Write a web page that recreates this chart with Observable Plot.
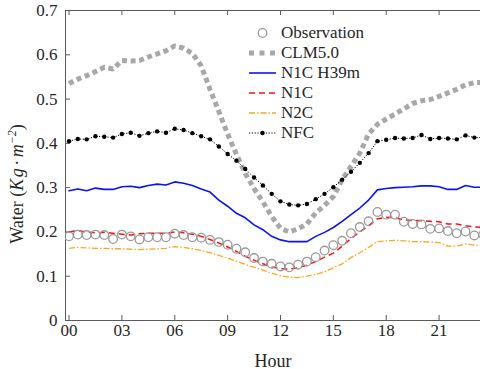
<!DOCTYPE html>
<html>
<head>
<meta charset="utf-8">
<script src="https://cdn.jsdelivr.net/npm/d3@7"></script>
<script src="https://cdn.jsdelivr.net/npm/@observablehq/plot@0.6"></script>
<style>
  html, body { margin: 0; padding: 0; background: #fff; }
  #wrap { position: relative; width: 480px; height: 369px; font-family: "Liberation Serif", serif; color: #262626; }
  #legend { position: absolute; left: 249px; top: 23px; font-family: "Liberation Serif", serif; font-size: 17px; line-height: 20px; }
  #legend .row { display: flex; align-items: center; height: 20px; }
  #legend svg { width: 27px; height: 20px; margin-right: 5px; flex: none; }
</style>
</head>
<body>
<div id="wrap"></div>
<script>
const hours = [0,0.5,1,1.5,2,2.5,3,3.5,4,4.5,5,5.5,6,6.5,7,7.5,8,8.5,9,9.5,10,10.5,11,11.5,
               12,12.5,13,13.5,14,14.5,15,15.5,16,16.5,17,17.5,18,18.5,19,19.5,20,20.5,21,21.5,22,22.5,23,23.5];
const observation = [0.190,0.194,0.193,0.194,0.193,0.184,0.194,0.190,0.183,0.188,0.188,0.188,0.196,0.193,0.188,0.187,
                     0.182,0.177,0.171,0.162,0.154,0.141,0.133,0.128,0.122,0.120,0.126,0.133,0.143,0.158,0.170,0.180,
                     0.197,0.211,0.224,0.245,0.239,0.239,0.223,0.218,0.217,0.207,0.208,0.202,0.197,0.201,0.192,0.194];
const clm50 = [0.535,0.545,0.553,0.562,0.572,0.568,0.587,0.586,0.587,0.595,0.602,0.609,0.620,0.615,0.603,0.575,
               0.522,0.472,0.421,0.375,0.332,0.298,0.268,0.235,0.208,0.200,0.207,0.218,0.243,0.260,0.280,0.318,
               0.348,0.378,0.421,0.443,0.455,0.466,0.478,0.490,0.496,0.499,0.506,0.514,0.522,0.532,0.537,0.538];
const n1cH39m = [0.293,0.297,0.293,0.299,0.296,0.296,0.302,0.303,0.300,0.305,0.308,0.306,0.313,0.310,0.305,0.297,
                 0.290,0.272,0.258,0.242,0.232,0.216,0.205,0.190,0.182,0.178,0.178,0.178,0.190,0.199,0.210,0.224,
                 0.239,0.254,0.272,0.295,0.298,0.300,0.301,0.302,0.304,0.304,0.302,0.296,0.296,0.305,0.301,0.301];
const n1c = [0.200,0.203,0.200,0.198,0.199,0.197,0.195,0.193,0.196,0.197,0.197,0.197,0.200,0.198,0.195,0.190,
             0.183,0.175,0.166,0.156,0.145,0.136,0.128,0.121,0.117,0.116,0.119,0.125,0.133,0.143,0.152,0.168,
             0.185,0.200,0.214,0.230,0.233,0.232,0.227,0.226,0.225,0.224,0.223,0.218,0.218,0.214,0.211,0.210];
const n2c = [0.163,0.165,0.164,0.163,0.163,0.162,0.162,0.161,0.160,0.161,0.162,0.163,0.167,0.165,0.162,0.158,
             0.153,0.147,0.141,0.134,0.127,0.120,0.114,0.107,0.101,0.098,0.097,0.100,0.104,0.110,0.119,0.128,
             0.142,0.153,0.165,0.178,0.180,0.181,0.180,0.178,0.178,0.177,0.176,0.168,0.168,0.173,0.170,0.169];
const nfc = [0.405,0.410,0.409,0.416,0.415,0.413,0.421,0.424,0.417,0.423,0.427,0.424,0.433,0.430,0.423,0.416,
             0.409,0.393,0.376,0.361,0.342,0.323,0.305,0.286,0.269,0.262,0.260,0.263,0.274,0.286,0.301,0.318,
             0.336,0.356,0.378,0.405,0.408,0.412,0.411,0.412,0.419,0.410,0.412,0.411,0.409,0.418,0.413,0.413];

const xTicks = [0,3,6,9,12,15,18,21];
const xTickLabels = ["00","03","06","09","12","15","18","21"];
const yTicks = [0,0.1,0.2,0.3,0.4,0.5,0.6,0.7];
const yTickLabels = ["0","0.1","0.2","0.3","0.4","0.5","0.6","0.7"];
const xDomain = [-0.2, 23.35];
const yDomain = [0, 0.7];

const seriesNames = ["Observation","CLM5.0","N1C H39m","N1C","N2C","NFC"];

const rows = hours.map((h, i) => ({h, obs: observation[i], clm: clm50[i], n1h: n1cH39m[i], n1: n1c[i], n2: n2c[i], nfc: nfc[i]}));

const axisColor = "#5a5a5a";
const FONT = "'Liberation Serif', serif";
const chart = Plot.plot({
  width: 480,
  height: 369,
  marginLeft: 65,
  marginRight: 0,
  marginTop: 10,
  marginBottom: 49,
  style: {fontFamily: FONT, fontSize: "17px", color: "#262626", background: "#fff"},
  x: {domain: xDomain, axis: null},
  y: {domain: yDomain, axis: null},
  marks: [
    Plot.ruleY([yDomain[0]], {stroke: axisColor, strokeWidth: 1}),
    Plot.ruleY([yDomain[1]], {stroke: axisColor, strokeWidth: 1}),
    Plot.ruleX([xDomain[0]], {stroke: axisColor, strokeWidth: 1}),
    Plot.tickX(xTicks, {x: d => d, insetTop: 305, stroke: axisColor}),
    Plot.tickX(xTicks, {x: d => d, insetBottom: 305, stroke: axisColor}),
    Plot.tickY(yTicks, {y: d => d, insetRight: 410, stroke: axisColor}),
    Plot.axisX(xTicks, {tickSize: 0, tickPadding: 3, tickFormat: d => xTickLabels[xTicks.indexOf(d)], label: null, fontSize: 17, fontFamily: FONT}),
    Plot.axisY(yTicks, {tickSize: 0, tickPadding: 8, tickFormat: d => yTickLabels[yTicks.indexOf(d)], label: null, fontSize: 17, fontFamily: FONT}),
    Plot.text(["Hour"], {frameAnchor: "bottom", dy: 46, lineAnchor: "bottom", fontSize: 18, fontFamily: FONT}),
    Plot.line(rows, {x: "h", y: "clm", stroke: "#a8a8a8", strokeWidth: 5, strokeDasharray: "5,3.6", strokeLinecap: "butt", strokeLinejoin: "miter", clip: true}),
    Plot.line(rows, {x: "h", y: "n1h", stroke: "#0a14f0", strokeWidth: 1.6, clip: true}),
    Plot.line(rows, {x: "h", y: "n1", stroke: "#ff1010", strokeWidth: 1.5, strokeDasharray: "6,4", strokeLinecap: "butt", clip: true}),
    Plot.line(rows, {x: "h", y: "n2", stroke: "#ffa51a", strokeWidth: 1.3, strokeDasharray: "6,2,1.5,2", strokeLinecap: "butt", clip: true}),
    Plot.line(rows, {x: "h", y: "nfc", stroke: "#000", strokeWidth: 1, strokeDasharray: "1.2,1.6", strokeLinecap: "butt", clip: true}),
    Plot.dot(rows, {x: "h", y: "nfc", r: 2.2, fill: "#000", stroke: "none", clip: true}),
    Plot.dot(rows, {x: "h", y: "obs", r: 4.3, fill: "none", stroke: "#9a9a9a", strokeWidth: 1.3, clip: true})
  ]
});

const wrap = document.getElementById("wrap");
wrap.appendChild(chart);

// y axis title with math-style italics
const svg = d3.select(chart);
const yt = svg.append("text")
  .attr("transform", "translate(23,184) rotate(-90)")
  .attr("text-anchor", "middle")
  .attr("font-size", 18)
  .attr("fill", "#262626")
  .attr("font-family", FONT);
yt.append("tspan").text("Water (");
yt.append("tspan").attr("font-style", "italic").text("K");
yt.append("tspan").attr("font-style", "italic").attr("dx", 1.5).text("g");
yt.append("tspan").attr("dx", 2.5).text("·");
yt.append("tspan").attr("font-style", "italic").attr("dx", 2.5).text("m");
yt.append("tspan").attr("font-style", "italic").attr("font-size", 12).attr("dy", -7).text("−2");
yt.append("tspan").attr("dy", 7).text(")");

// legend
const legend = document.createElement("div");
legend.id = "legend";
const swatches = [
  `<circle cx="13.5" cy="10" r="4.3" fill="none" stroke="#9a9a9a" stroke-width="1.3"/>`,
  `<line x1="0" x2="27" y1="10" y2="10" stroke="#a8a8a8" stroke-width="5" stroke-dasharray="5,5.5"/>`,
  `<line x1="0" x2="27" y1="10" y2="10" stroke="#0a14f0" stroke-width="1.6"/>`,
  `<line x1="0" x2="27" y1="10" y2="10" stroke="#ff1010" stroke-width="1.5" stroke-dasharray="6,4"/>`,
  `<line x1="0" x2="27" y1="10" y2="10" stroke="#ffa51a" stroke-width="1.3" stroke-dasharray="6,2,1.5,2"/>`,
  `<line x1="0" x2="27" y1="10" y2="10" stroke="#000" stroke-width="1" stroke-dasharray="1.2,1.6"/><circle cx="13.5" cy="10" r="2.2" fill="#000"/>`
];
seriesNames.forEach((name, i) => {
  const row = document.createElement("div");
  row.className = "row";
  row.innerHTML = `<svg viewBox="0 0 27 20">${swatches[i]}</svg><span>${name}</span>`;
  legend.appendChild(row);
});
wrap.appendChild(legend);
</script>
</body>
</html>
